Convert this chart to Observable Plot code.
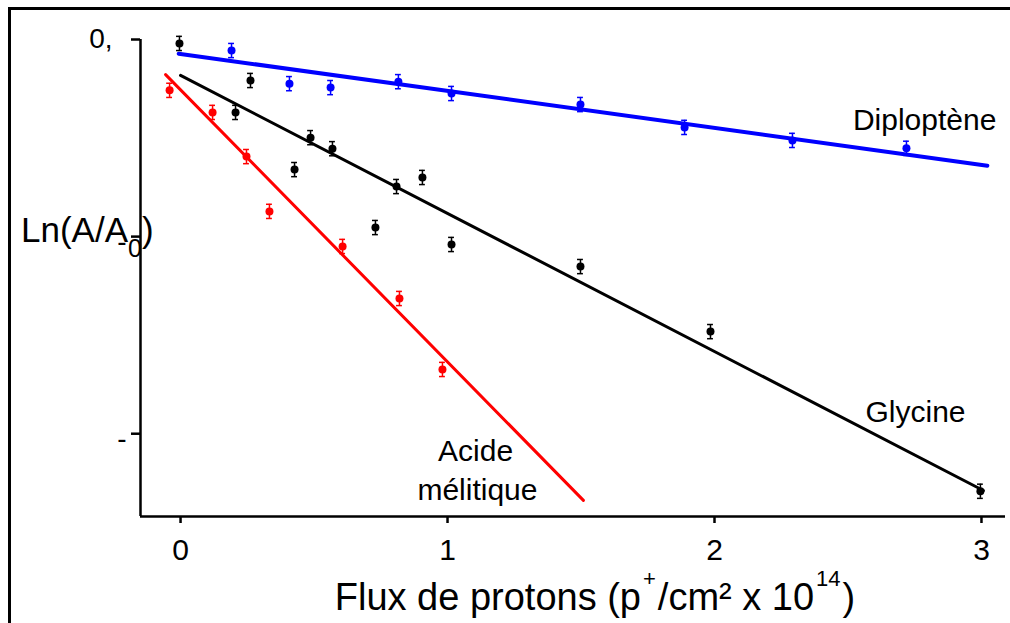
<!DOCTYPE html>
<html><head><meta charset="utf-8">
<script src="https://cdn.jsdelivr.net/npm/d3@7"></script>
<script src="https://cdn.jsdelivr.net/npm/@observablehq/plot@0.6"></script>
<style>
body{margin:0;background:#fff;}
#wrap{position:relative;width:1010px;height:623px;overflow:hidden;font-family:"Liberation Sans",Arial,sans-serif;color:#000;}
#frame{position:absolute;left:8px;top:7px;right:-10px;bottom:-10px;border-left:3px solid #000;border-top:3px solid #000;}
#chart{position:absolute;left:0;top:0;}
#ylab{position:absolute;left:21px;top:212px;font-size:35px;line-height:35px;white-space:nowrap;}
#ylab .sub{font-size:25px;position:relative;top:15px;}
#xlab{position:absolute;left:0;width:1190px;text-align:center;top:578px;font-size:38px;line-height:38px;white-space:nowrap;}
#xlab .sup{font-size:22px;position:relative;top:-24px;margin:0 2px;}
</style></head>
<body>
<div id="wrap">
  <div id="frame"></div>
  <div id="chart"></div>
  <div id="ylab">Ln(A/A<span class="sub">0</span>)</div>
  <div id="xlab">Flux de protons (p<span class="sup">+</span>/cm² x 10<span class="sup">14</span>)</div>
</div>
<script>
// Glycine (black)
const glyX = [-0.004, 0.206, 0.262, 0.427, 0.487, 0.569, 0.730, 0.809, 0.906, 1.015, 1.498, 1.985, 2.996];
const glyY = [-0.010, -0.185, -0.104, -0.330, -0.249, -0.277, -0.477, -0.373, -0.350, -0.520, -0.576, -0.741, -1.146];
// Diploptène (blue)
const dipX = [0.191, 0.408, 0.562, 0.816, 1.015, 1.498, 1.888, 2.292, 2.719];
const dipY = [-0.028, -0.112, -0.122, -0.107, -0.137, -0.165, -0.223, -0.256, -0.276];
// Acide mélitique (red)
const melX = [-0.041, 0.120, 0.247, 0.333, 0.607, 0.820, 0.981];
const melY = [-0.129, -0.185, -0.297, -0.436, -0.525, -0.657, -0.837];
// fitted lines (end points)
const dipFitX = [-0.007, 3.022], dipFitY = [-0.036, -0.320];
const glyFitX = [0, 3.007],      glyFitY = [-0.091, -1.144];
const melFitX = [-0.056, 1.509], melFitY = [-0.089, -1.169];
const errHalf = 0.018;
// axes
const xTicks = [0, 1, 2, 3];
const yTicks = [0, -0.5, -1];
const yTickLabels = ["0,", "-", "-"];
// line labels
const labelText = ["Diploptène", "Glycine", "Acide", "mélitique"];
const labelX = [2.787, 2.753, 1.105, 1.112];
const labelY = [-0.2055, -0.946, -1.045, -1.144];

const xMin = -0.15, xMax = 3.09, yMin = -1.21, yMax = 0;

function pts(xs, ys) { return xs.map((x, i) => ({x, y: ys[i]})); }
const series = [
  {name: "Diploptène", color: "#0000ff", w: 4, pts: pts(dipX, dipY), fit: pts(dipFitX, dipFitY)},
  {name: "Glycine", color: "#000000", w: 3, pts: pts(glyX, glyY), fit: pts(glyFitX, glyFitY)},
  {name: "Acide mélitique", color: "#ff0000", w: 3, pts: pts(melX, melY), fit: pts(melFitX, melFitY)}
];

const marks = [
  Plot.ruleX([xMin], {stroke: "#000", strokeWidth: 2.5}),
  Plot.ruleY([yMin], {stroke: "#000", strokeWidth: 2.5}),
  Plot.axisX({ticks: xTicks, tickSize: 7, tickPadding: 15, fontSize: 30, strokeWidth: 2.5, label: null, tickFormat: d => String(d)}),
  Plot.axisY({ticks: yTicks, tickSize: 9, strokeWidth: 2.5, label: null, tickFormat: () => ""}),
  Plot.text(yTicks.slice(0, 1), {y: d => d, frameAnchor: "left", text: () => yTickLabels[0], textAnchor: "end", dx: -28, fontSize: 28}),
  Plot.text(yTicks.slice(1), {y: d => d, frameAnchor: "left", text: (d, i) => yTickLabels[i + 1], textAnchor: "end", dx: -14, dy: 5, fontSize: 28})
];
for (const s of series) {
  marks.push(Plot.line(s.fit, {x: "x", y: "y", stroke: s.color, strokeWidth: s.w}));
  marks.push(Plot.ruleX(s.pts, {x: "x", y1: d => d.y - errHalf, y2: d => d.y + errHalf, stroke: s.color, strokeWidth: 1.5}));
  marks.push(Plot.ruleY(s.pts, {y: d => d.y - errHalf, x1: d => d.x - 0.011, x2: d => d.x + 0.011, stroke: s.color, strokeWidth: 1.5}));
  marks.push(Plot.ruleY(s.pts, {y: d => d.y + errHalf, x1: d => d.x - 0.011, x2: d => d.x + 0.011, stroke: s.color, strokeWidth: 1.5}));
  marks.push(Plot.dot(s.pts, {x: "x", y: "y", r: 4, fill: s.color, stroke: "none"}));
}
marks.push(Plot.text(labelText.map((t, i) => ({t, x: labelX[i], y: labelY[i]})), {x: "x", y: "y", text: "t", fontSize: 30, textAnchor: "middle", lineAnchor: "middle", fill: "#000"}));

const chart = Plot.plot({
  width: 1010, height: 623,
  marginLeft: 140, marginRight: 5, marginTop: 39, marginBottom: 107,
  x: {domain: [xMin, xMax]},
  y: {domain: [yMin, yMax]},
  style: {fontFamily: "Liberation Sans, Arial, sans-serif", background: "transparent", color: "#000", overflow: "visible"},
  marks
});
document.getElementById("chart").appendChild(chart);
</script>
</body></html>
